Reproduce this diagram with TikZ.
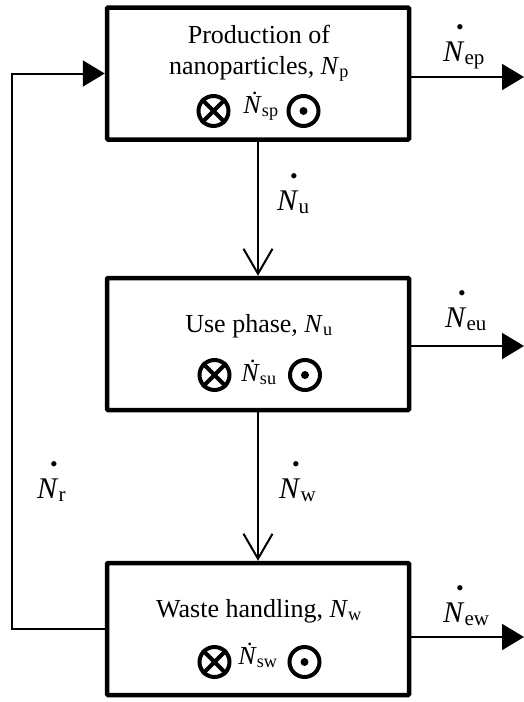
\documentclass[tikz,border=0pt]{standalone}
\usepackage{fontspec}
\setmainfont{Liberation Serif}
\usetikzlibrary{arrows.meta,positioning}
\newcommand{\Nflow}[1]{\ooalign{\textit{N}\cr\hidewidth\kern0.4em\raisebox{0.87em}{\fontsize{22}{22}\selectfont\textbullet}\hidewidth\cr}\textsubscript{#1}}
\newcommand{\Nsrc}[1]{\textit{\.N}\textsubscript{#1}}
\tikzset{
  stage/.style={draw=black, line width=4.5pt, rounded corners=1pt, minimum width=302pt, minimum height=132pt, inner sep=0pt},
  stagetext/.style={font=\fontsize{26}{31}\selectfont, align=center, inner sep=0pt},
  flowlabel/.style={font=\fontsize{30}{36}\selectfont, inner sep=0pt},
  sym/.style={circle, draw=black, line width=4pt, minimum size=30pt, inner sep=0pt},
  flow/.style={-{Straight Barb[length=25pt,width=29pt]}, line width=2pt},
  outflow/.style={-{Triangle[length=22pt,width=26pt]}, line width=2pt}
}

\begin{document}
\begin{tikzpicture}[x=1pt,y=-1pt]
\useasboundingbox (0,0) rectangle (524,702);
% ---- stages ----
\node[stage] (prod) at (258,73.5) {};
\node[stage] (use) at (258,344) {};
\node[stage] (waste) at (258,629) {};
\node[stagetext, anchor=base] (prodtxt) at (259,74) {Production of\\nanoparticles, \textit{N}\textsubscript{p}};
\node[stagetext, anchor=base] (usetxt) at (259,332) {Use phase, \textit{N}\textsubscript{u}};
\node[stagetext, anchor=base] (wastetxt) at (259,617) {Waste handling, \textit{N}\textsubscript{w}};
% ---- sinks and sources ----
\node[sym] (prodx) at (213.5,111) {};
\node[sym] (prodo) at (303.5,111) {};
\node[stagetext, anchor=base] (prodsp) at (261,113) {\Nsrc{sp}};
\node[sym] (usex) at (214.5,375) {};
\node[sym] (useo) at (305,375) {};
\node[stagetext, anchor=base] (usesu) at (259,381) {\Nsrc{su}};
\node[sym] (wastex) at (214.5,662) {};
\node[sym] (wasteo) at (304.5,662) {};
\node[stagetext, anchor=base] (wastesw) at (258,664) {\Nsrc{sw}};
\foreach \s in {prodx,usex,wastex}
  \draw[line width=4pt] (\s.north east) -- (\s.south west) (\s.north west) -- (\s.south east);
\foreach \s in {prodo,useo,wasteo}
  \fill (\s) circle (4pt);
% ---- flows ----
\draw[flow] (prod) -- (use);
\draw[flow] (use) -- (waste);
\coordinate (prodend) at (524,77);
\coordinate (useend) at (524,346);
\coordinate (wasteend) at (524,637);
\draw[outflow] (prod.east |- prodend) -- (prodend);
\draw[outflow] (use.east |- useend) -- (useend);
\draw[outflow] (waste.east |- wasteend) -- (wasteend);
\draw[outflow] (waste.west) -| ([xshift=-93pt]prod.west) -- (prod.west);
\node[flowlabel, anchor=base west] (Nep) at (443,61) {\Nflow{ep}};
\node[flowlabel, anchor=base west] (Neu) at (445,327) {\Nflow{eu}};
\node[flowlabel, anchor=base west] (New) at (443,622) {\Nflow{ew}};
\node[flowlabel, anchor=base west] (Nu) at (277,210) {\Nflow{u}};
\node[flowlabel, anchor=base west] (Nw) at (279,498) {\Nflow{w}};
\node[flowlabel, anchor=base west] (Nr) at (37,498) {\Nflow{r}};
\end{tikzpicture}
\end{document}
